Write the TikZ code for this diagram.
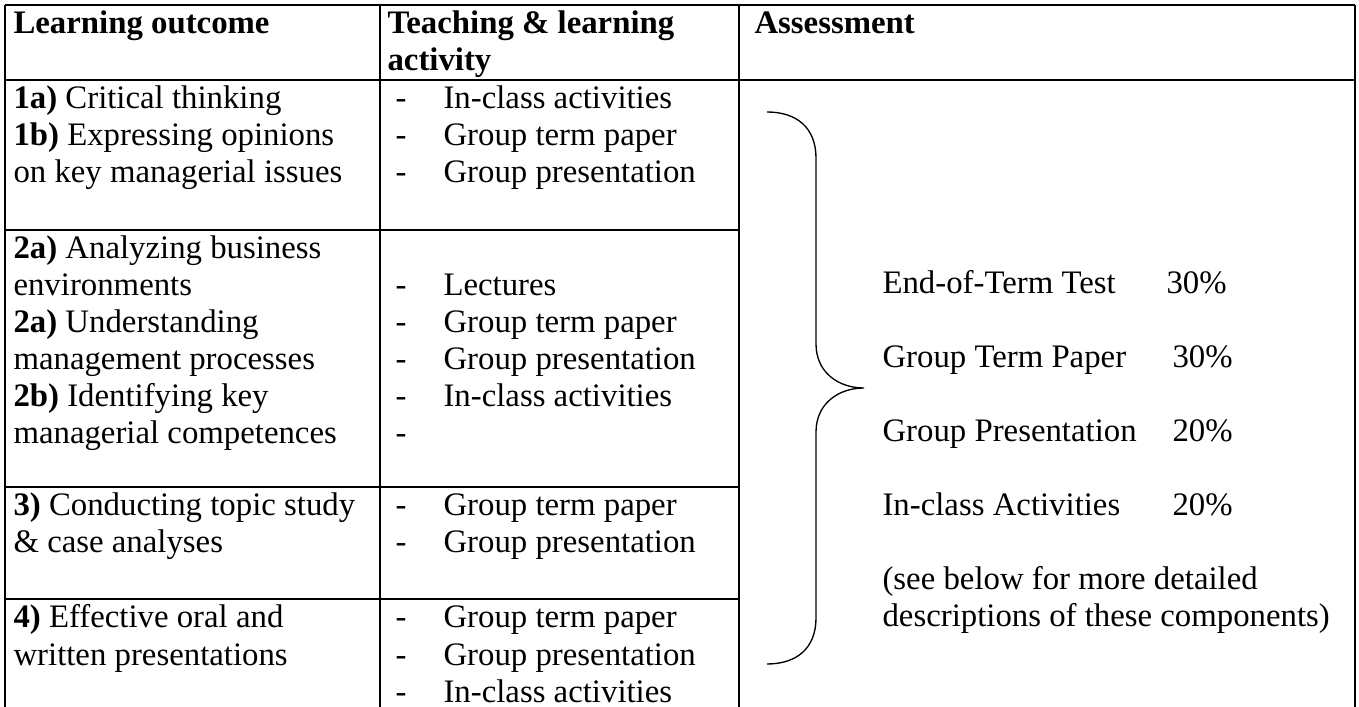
\documentclass[tikz,border=0pt]{standalone}
\usepackage{fontspec}
\setmainfont{Liberation Serif}
\usepackage{tikz}

\tikzset{
  txt/.style={anchor=base west, inner sep=0pt, font=\fontsize{12.3}{14}\selectfont},
  hd/.style={txt, font=\fontsize{12.3}{14}\selectfont\bfseries},
  rule/.style={line width=0.75pt},
}

\begin{document}
\begin{tikzpicture}[x=0.375pt, y=-0.375pt]

   \useasboundingbox (0,0) rectangle (1359,707);
   \fill[white] (0,0) rectangle (1359,707);

   % table grid (cut off at the bottom)
   \draw[rule] (5,5) -- (1355,5);
   \draw[rule] (5,80) -- (1355,80);
   \draw[rule] (5,230) -- (739,230);
   \draw[rule] (5,487) -- (739,487);
   \draw[rule] (5,599) -- (739,599);
   \draw[rule] (5,5) -- (5,707);
   \draw[rule] (380,5) -- (380,707);
   \draw[rule] (739,5) -- (739,707);
   \draw[rule] (1355,5) -- (1355,707);

   % headers
   \node[hd] (hd-lo) at (13,34) {Learning outcome};
   \node[hd] (hd-act) at (387,34) {Teaching \& learning};
   \node[hd] (hd-act2) at (387,71) {activity};
   \node[hd] (hd-as) at (754,34) {Assessment};

   % learning outcomes
   \node[txt] (lo-1a) at (13,109) {\textbf{1a)} Critical thinking};
   \node[txt] (lo-1b) at (13,146) {\textbf{1b)} Expressing opinions};
   \node[txt] (lo-1c) at (13,183) {on key managerial issues};
   \node[txt] (lo-2a) at (13,259) {\textbf{2a)} Analyzing business};
   \node[txt] (lo-2b) at (13,296) {environments};
   \node[txt] (lo-2c) at (13,333) {\textbf{2a)} Understanding};
   \node[txt] (lo-2d) at (13,370) {management processes};
   \node[txt] (lo-2e) at (13,407) {\textbf{2b)} Identifying key};
   \node[txt] (lo-2f) at (13,444) {managerial competences};
   \node[txt] (lo-3a) at (13,516) {\textbf{3)} Conducting topic study};
   \node[txt] (lo-3b) at (13,553) {\& case analyses};
   \node[txt] (lo-4a) at (13,628) {\textbf{4)} Effective oral and};
   \node[txt] (lo-4b) at (13,665) {written presentations};

   % activities
   \foreach \y [count=\i] in {109,146,183,296,333,370,407,444,516,553,628,665,702}
      \node[txt] (dash-\i) at (395,\y) {-};
   \foreach \y/\t [count=\i] in {109/In-class activities, 146/Group term paper,
      183/Group presentation, 296/Lectures, 333/Group term paper,
      370/Group presentation, 407/In-class activities, 516/Group term paper,
      553/Group presentation, 628/Group term paper, 665/Group presentation,
      702/In-class activities}
      \node[txt] (act-\i) at (443,\y) {\t};

   % brace
   \draw[line width=0.5pt] (767,112) .. controls (797,112) and (816,128) .. (816,158)
      -- (816,344) .. controls (816,372) and (838,388) .. (864,388)
      .. controls (838,388) and (816,404) .. (816,432)
      -- (816,618) .. controls (816,648) and (797,664) .. (767,664);

   % assessment
   \node[txt] (as-1) at (882,294) {End-of-Term Test};
   \node[txt] (pc-1) at (1166,294) {30\%};
   \node[txt] (as-2) at (882,368) {Group Term Paper};
   \node[txt] (pc-2) at (1172,368) {30\%};
   \node[txt] (as-3) at (882,442) {Group Presentation};
   \node[txt] (pc-3) at (1172,442) {20\%};
   \node[txt] (as-4) at (882,516) {In-class Activities};
   \node[txt] (pc-4) at (1172,516) {20\%};
   \node[txt] (note-1) at (882,590) {(see below for more detailed};
   \node[txt] (note-2) at (882,627) {descriptions of these components)};

\end{tikzpicture}
\end{document}
